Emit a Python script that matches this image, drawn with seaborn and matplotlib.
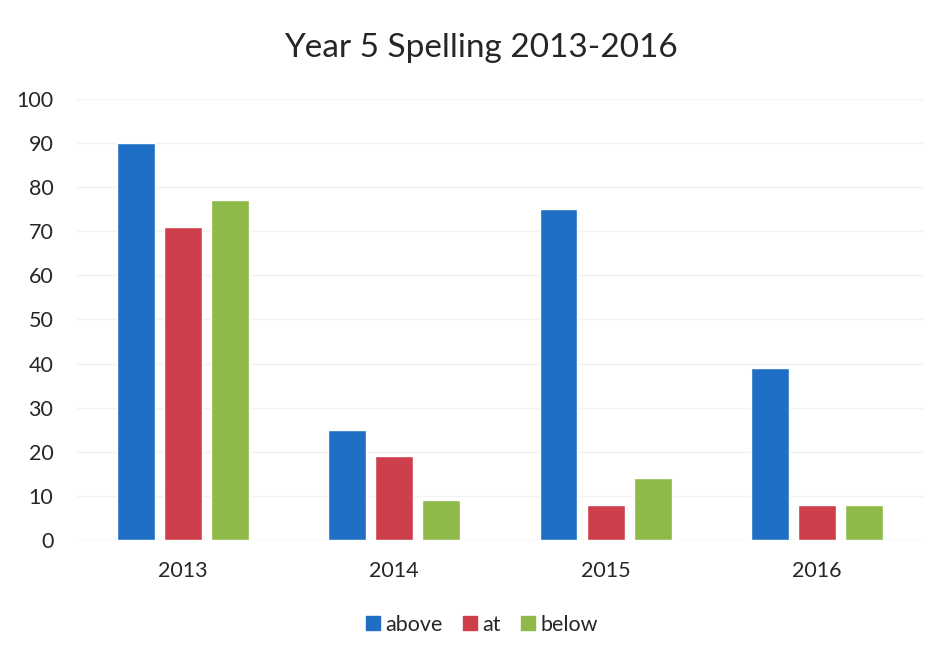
import matplotlib
matplotlib.use("Agg")
import matplotlib.pyplot as plt
import seaborn as sns
import pandas as pd

years = ["2013", "2014", "2015", "2016"]
above = [90, 25, 75, 39]
at = [71, 19, 8, 8]
below = [77, 9, 14, 8]
levels = ["above", "at", "below"]
colors = ["#1f6fc6", "#cc3f4b", "#8fba4a"]
y_ticks = list(range(0, 101, 10))

df = pd.DataFrame({
    "year": years * 3,
    "value": above + at + below,
    "level": ["above"] * 4 + ["at"] * 4 + ["below"] * 4,
})

sns.set_theme(style="white")
plt.rcParams["font.family"] = ["Lato", "DejaVu Sans"]

fig = plt.figure(figsize=(9.41, 6.59), dpi=100)
ax = fig.add_axes([0.0818, 0.1806, 0.899, 0.6692])

sns.barplot(data=df, x="year", y="value", hue="level", hue_order=levels,
            palette=colors, width=0.667, gap=0.2, ax=ax, legend=False,
            saturation=1)

ax.set_ylim(0, 100)
ax.set_yticks(y_ticks)
ax.set_xlim(-0.5, 3.5)
ax.yaxis.grid(True, color="#f2f2f2", linewidth=1)
ax.set_axisbelow(True)
for s in ax.spines.values():
    s.set_visible(False)
ax.axhline(0, color="#ececec", linewidth=1, zorder=0)
ax.set_xlabel("")
ax.set_ylabel("")
ax.tick_params(axis="both", length=0, labelsize=15.5, colors="#262626")
ax.tick_params(axis="y", pad=17)
ax.tick_params(axis="x", pad=15)
for lab in ax.get_yticklabels():
    lab.set_horizontalalignment("right")

fig.text(0.511, 0.927, "Year 5 Spelling 2013-2016", ha="center", va="center",
         fontsize=24, color="#262626")

handles = [plt.Rectangle((0, 0), 1, 1, color=c) for c in colors]
fig.legend(handles, levels, loc="center", bbox_to_anchor=(0.512, 0.052),
           ncol=3, frameon=False, fontsize=15.5, handlelength=0.65,
           handleheight=0.65, handletextpad=0.25, columnspacing=0.95,
           labelcolor="#262626")

fig.savefig("out.png", dpi=100, facecolor="white")
